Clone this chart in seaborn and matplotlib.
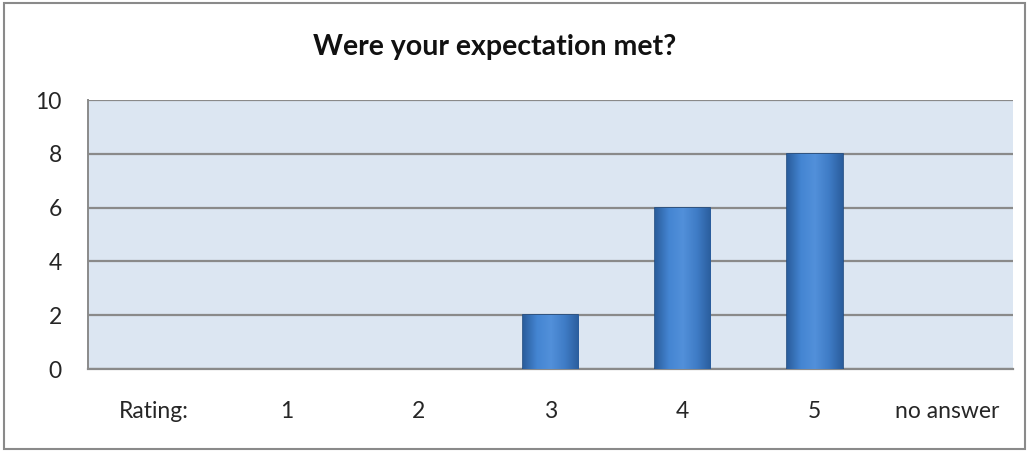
import matplotlib
matplotlib.use("Agg")
import matplotlib.pyplot as plt
import seaborn as sns
import numpy as np
import pandas as pd
from matplotlib.patches import Rectangle
from matplotlib.colors import LinearSegmentedColormap

categories = ["Rating:", "1", "2", "3", "4", "5", "no answer"]
values = [0, 0, 0, 2, 6, 8, 0]
title = "Were your expectation met?"
yticks = [0, 2, 4, 6, 8, 10]

sns.set_style("white")
plt.rcParams['font.family'] = ['Lato', 'DejaVu Sans']

fig = plt.figure(figsize=(10.31, 4.53), dpi=100)
ax = fig.add_axes([0.0854, 0.1854, 0.8971, 0.5938])

df = pd.DataFrame({"cat": categories, "val": values})
sns.barplot(data=df, x="cat", y="val", ax=ax, color="#3c7bc8", width=0.42,
            edgecolor="#1f4a80", linewidth=1.2, saturation=1, zorder=3)

# gradient overlay on bars
grad = np.linspace(0, 1, 256).reshape(1, -1)
cmap = LinearSegmentedColormap.from_list("g", ["#2a5d9c", "#4485d2", "#5290da", "#3f7cc6", "#2a5d9c"])
for p in ax.patches:
    bb = p.get_bbox()
    if bb.height <= 0:
        p.set_linewidth(0)
        p.set_visible(False)
        continue
    im = ax.imshow(grad, aspect="auto", cmap=cmap,
                   extent=[bb.x0, bb.x1, bb.y0, bb.y1], zorder=3.5)
    im.set_clip_path(p)

ax.set_facecolor("#dce6f2")
ax.set_xlim(-0.5, len(categories) - 0.5)
ax.set_ylim(0, 10)
ax.set_yticks(yticks)
ax.yaxis.grid(True, color="#8a8a8a", linewidth=1.6, zorder=1)
ax.set_axisbelow(True)
for s in ["top", "right"]:
    ax.spines[s].set_visible(False)
ax.spines["left"].set_color("#8a8a8a")
ax.spines["left"].set_linewidth(1.4)
ax.spines["bottom"].set_color("#8a8a8a")
ax.spines["bottom"].set_linewidth(1.6)
ax.set_xlabel("")
ax.set_ylabel("")
ax.tick_params(axis="x", length=0, pad=23, labelsize=16.5, colors="#262626")
ax.tick_params(axis="y", length=0, pad=19, labelsize=16.5, colors="#262626")
fig.text(495 / 1031, 1 - 47 / 453, title, fontsize=20.5, fontweight="bold",
         color="#111111", ha="center", va="center")

fig.patches.append(Rectangle((0.004, 0.008), 0.99, 0.985, transform=fig.transFigure,
                             fill=False, edgecolor="#8a8a8a", linewidth=1.5))

fig.savefig("out.png", dpi=100, facecolor="white")
